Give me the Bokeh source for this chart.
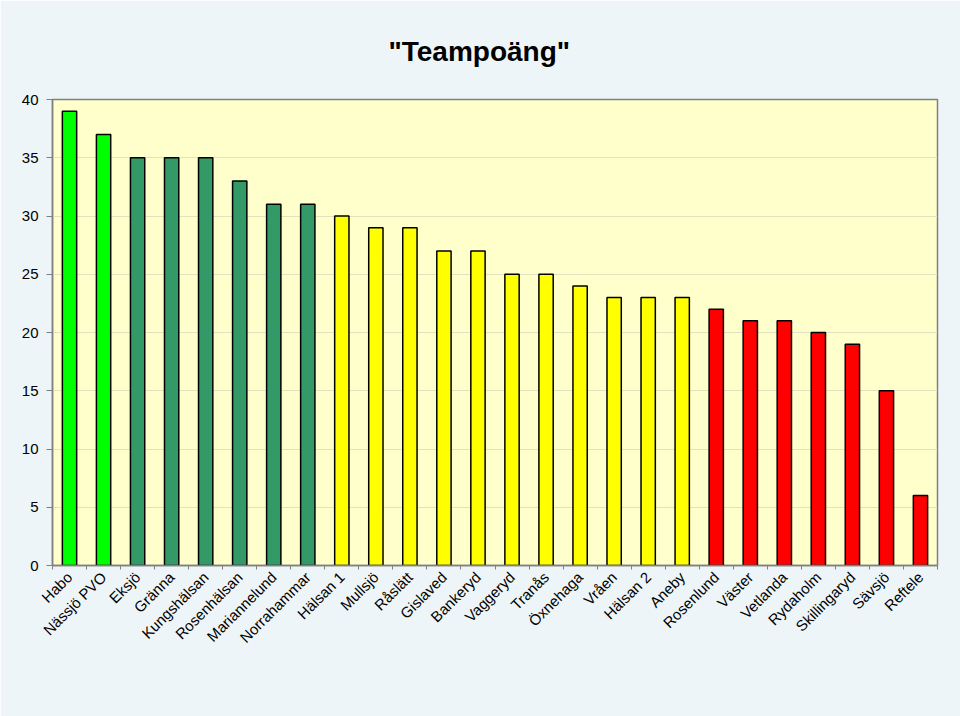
import math
from bokeh.plotting import figure
from bokeh.models import FixedTicker, Range1d, ColumnDataSource
from bokeh.embed import file_html
from bokeh.resources import INLINE

teams = ["Habo", "Nässjö PVO", "Eksjö", "Gränna", "Kungshälsan", "Rosenhälsan",
         "Mariannelund", "Norrahammar", "Hälsan 1", "Mullsjö", "Råslätt", "Gislaved",
         "Bankeryd", "Vaggeryd", "Tranås", "Öxnehaga", "Vråen", "Hälsan 2", "Aneby",
         "Rosenlund", "Väster", "Vetlanda", "Rydaholm", "Skillingaryd", "Sävsjö", "Reftele"]
points = [39, 37, 35, 35, 35, 33, 31, 31, 30, 29, 29, 27, 27, 25, 25, 24, 23, 23, 23,
          22, 21, 21, 20, 19, 15, 6]
groups = ["top"] * 2 + ["high"] * 6 + ["mid"] * 11 + ["low"] * 7
group_colors = {"top": "#00FF00", "high": "#339966", "mid": "#FFFF00", "low": "#FF0000"}
y_ticks = [0, 5, 10, 15, 20, 25, 30, 35, 40]

xs = [i + 0.5 for i in range(len(teams))]
source = ColumnDataSource(dict(x=xs, top=points, team=teams,
                               color=[group_colors[g] for g in groups]))

p = figure(width=960, height=716, output_backend="svg", toolbar_location=None,
           x_range=Range1d(0, len(teams)), y_range=Range1d(0, 40),
           min_border_left=52, min_border_right=23, min_border_top=99, min_border_bottom=151)

p.vbar(x="x", top="top", width=0.42, bottom=0, source=source,
       fill_color="color", line_color="black", line_width=1.5)

p.title.text = '"Teampoäng"'
p.title.align = "left"
p.title.offset = 336
p.title.text_font = "Liberation Sans"
p.title.text_font_size = "28px"
p.title.text_font_style = "bold"
p.title.text_color = "black"
p.title.standoff = 65

p.background_fill_color = "#FFFFCC"
p.border_fill_color = "#EEF5F9"
p.outline_line_color = "#808080"
p.outline_line_width = 1.5

p.xgrid.grid_line_color = None
p.ygrid.grid_line_color = "#E2E2C0"
p.ygrid.ticker = FixedTicker(ticks=y_ticks)

p.yaxis.ticker = FixedTicker(ticks=y_ticks)
p.yaxis.axis_line_color = "#808080"
p.yaxis.axis_line_width = 1.5
p.yaxis.major_tick_line_color = "#808080"
p.yaxis.major_tick_out = 6
p.yaxis.major_tick_in = 0
p.yaxis.minor_tick_line_color = None
p.yaxis.major_label_text_font = "Liberation Sans"
p.yaxis.major_label_text_font_size = "15px"
p.yaxis.major_label_text_color = "black"
p.yaxis.major_label_standoff = 8

p.xaxis.ticker = FixedTicker(ticks=xs, minor_ticks=list(range(len(teams) + 1)))
p.xaxis.major_label_overrides = {x: t for x, t in zip(xs, teams)}
p.xaxis.major_label_orientation = math.pi / 4
p.xaxis.axis_line_color = "#808080"
p.xaxis.axis_line_width = 1.5
p.xaxis.major_tick_line_color = None
p.xaxis.minor_tick_line_color = "#808080"
p.xaxis.minor_tick_out = 4
p.xaxis.minor_tick_in = 0
p.xaxis.major_label_text_font = "Liberation Sans"
p.xaxis.major_label_text_font_size = "15px"
p.xaxis.major_label_text_color = "black"
p.xaxis.major_label_standoff = 3

open("out.html", "w").write(file_html(p, INLINE))
